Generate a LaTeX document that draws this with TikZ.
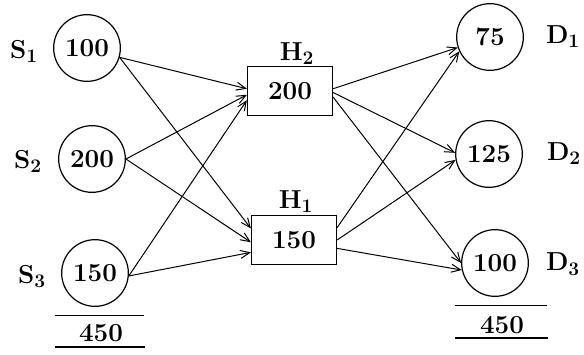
\documentclass[tikz,border=0pt]{standalone}
\usetikzlibrary{arrows.meta}

\begin{document}
\begin{tikzpicture}[x=0.75pt,y=0.75pt,yscale=-1,xscale=1,
  every node/.style={font=\fontsize{19.5}{22}\selectfont\bfseries},
  stock/.style={draw,circle,line width=0.9pt,minimum size=50pt,inner sep=0pt},
  hub/.style={draw,rectangle,line width=0.9pt,minimum width=63.75pt,minimum height=36.75pt,inner sep=0pt},
  tag/.style={inner sep=0.75pt},
  flow/.style={line width=0.75pt,-{Straight Barb[length=7pt,width=6pt]}}]
\useasboundingbox (0,0) rectangle (584,354);

% Sources
\node [stock] (s1) at (87,48) {100};
\node [stock] (s2) at (92,159) {200};
\node [stock] (s3) at (95,273) {150};
\node [tag] (s1lab) at (24,51) {S$_{\mathbf{1}}$};
\node [tag] (s2lab) at (28,161) {S$_{\mathbf{2}}$};
\node [tag] (s3lab) at (32,276) {S$_{\mathbf{3}}$};

% Hubs
\node [hub] (h2) at (290,91) {200};
\node [hub] (h1) at (294,240) {150};
\node [tag] (h2lab) at (297,54) {H$_{\mathbf{2}}$};
\node [tag] (h1lab) at (296,202) {H$_{\mathbf{1}}$};

% Destinations
\node [stock] (d1) at (490,37) {75};
\node [stock] (d2) at (489,154) {125};
\node [stock] (d3) at (495,263) {100};
\node [tag] (d1lab) at (563,37) {D$_{\mathbf{1}}$};
\node [tag] (d2lab) at (564,154) {D$_{\mathbf{2}}$};
\node [tag] (d3lab) at (563,264) {D$_{\mathbf{3}}$};

%Straight Lines
\draw [flow] (s1.-16) -- (h2.177);
\draw [flow] (s1.-16) -- (h1.165);
\draw [flow] (s2.east) -- (h2.185);
\draw [flow] (s2.east) -- (h1.183);
\draw [flow] (s3.-5) -- (h2.192);
\draw [flow] (s3.-5) -- (h1.196);
%Straight Lines
\draw [flow] (h2.3) -- (d1.198);
\draw [flow] (h2.-2) -- (d2.178);
\draw [flow] (h2.-8) -- (d3.180);
\draw [flow] (h1.16) -- (d1.205);
\draw [flow] (h1.east) -- (d2.190);
\draw [flow] (h1.-11) -- (d3.192);

% Totals
\draw [line width=0.75pt] (55,315) -- (144,315);
\node [tag] (stotal) at (101,333) {450};
\draw [line width=1.5pt] (55,347) -- (145,347);
\draw [line width=0.75pt] (455,305) -- (547,305);
\node [tag] (dtotal) at (502,325) {450};
\draw [line width=1.5pt] (455,338) -- (548,338);

\end{tikzpicture}
\end{document}
